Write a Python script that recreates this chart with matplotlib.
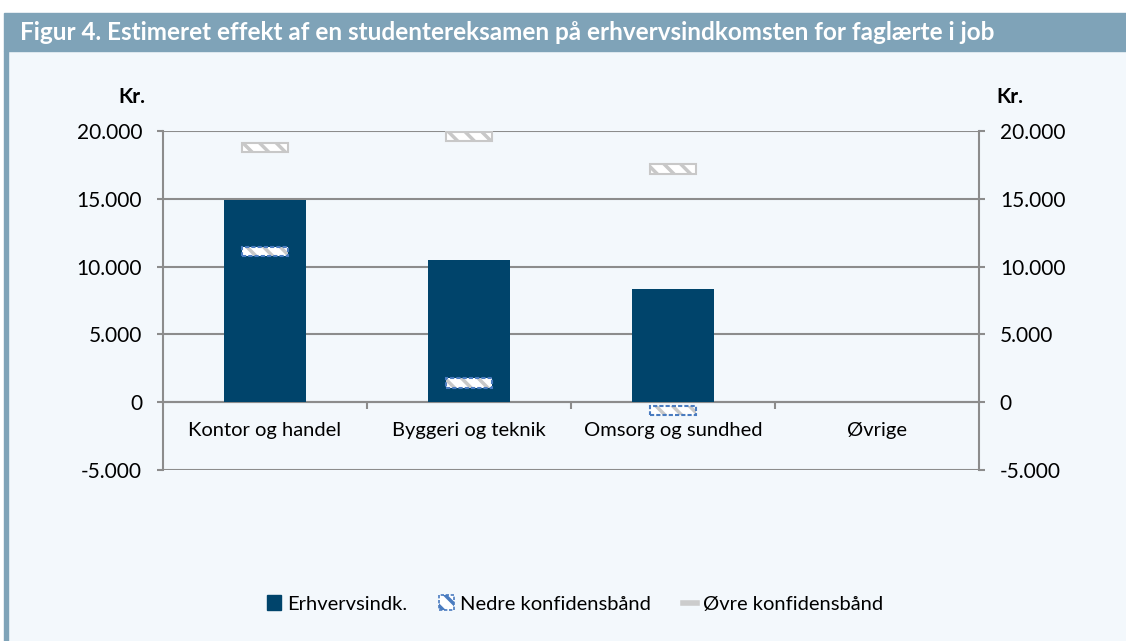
import numpy as np
import matplotlib.pyplot as plt
from matplotlib.patches import Patch, Rectangle
from matplotlib.lines import Line2D
from matplotlib.ticker import FuncFormatter, FixedLocator

plt.rcParams['font.family'] = ['Lato', 'DejaVu Sans']
plt.rcParams['hatch.linewidth'] = 2.5

# data (kr.)
categories = ['Kontor og handel', 'Byggeri og teknik', 'Omsorg og sundhed', 'Øvrige']
erhverv = [14900, 10450, 8350, np.nan]
nedre = [11100, 1400, -600, np.nan]
oevre = [18800, 19600, 17200, np.nan]
yticks = [-5000, 0, 5000, 10000, 15000, 20000]

navy = '#00446b'
grid_c = '#8c8c8c'
bg = '#f3f8fc'
band = '#7fa3b8'

W, H = 1126, 641
fig = plt.figure(figsize=(W / 100, H / 100), dpi=100)
fig.patch.set_facecolor('white')

# background, title bar and left border
fig.add_artist(Rectangle((8 / W, 0), 1, 1 - 51 / H, transform=fig.transFigure, color=bg, zorder=-3))
fig.add_artist(Rectangle((4 / W, 0), 4 / W, 1 - 51 / H, transform=fig.transFigure, color=band, zorder=-2))
fig.add_artist(Rectangle((4 / W, 1 - 51 / H), 1, 38 / H, transform=fig.transFigure, color=band, zorder=-2))
fig.text(20 / W, 1 - 32 / H, 'Figur 4. Estimeret effekt af en studentereksamen på erhvervsindkomsten for faglærte i job',
         color='white', fontsize=17.5, fontweight='bold', va='center', ha='left')

ax = fig.add_axes([163 / W, (H - 470) / H, 816 / W, (470 - 131) / H])
ax.set_facecolor('none')
x = np.arange(len(categories))

ax.bar(x, erhverv, width=0.4, color=navy, zorder=3)

# confidence band markers as small hatched boxes
bh = 700
bw = 0.23
nedre_arr = np.array(nedre)
oevre_arr = np.array(oevre)
ax.bar(x, bh, bottom=oevre_arr - bh / 2, width=bw, facecolor='white', edgecolor='#c8c8c8',
       hatch='\\\\', linewidth=1.5, zorder=4)
ax.bar(x, bh, bottom=nedre_arr - bh / 2, width=bw, facecolor='white', edgecolor='#c8c8c8',
       hatch='\\\\', linewidth=0, zorder=4)
ax.bar(x, bh, bottom=nedre_arr - bh / 2, width=bw, facecolor='none', edgecolor='#4a7cc0',
       linestyle=(0, (2, 1)), linewidth=1.5, zorder=5)

ax.set_xlim(-0.5, 3.5)
ax.set_ylim(-5000, 20000)
ax.set_yticks(yticks)
ax.yaxis.set_major_formatter(FuncFormatter(lambda v, p: f'{int(v):,}'.replace(',', '.')))
ax.yaxis.grid(True, color=grid_c, linewidth=1.5, zorder=1)
ax.set_axisbelow(True)
ax.tick_params(axis='y', left=True, right=True, labelleft=True, labelright=True,
               direction='out', length=4, width=1.5, color=grid_c, pad=11, labelsize=15)

ax.spines['top'].set_visible(False)
for s in ['left', 'right', 'bottom']:
    ax.spines[s].set_color(grid_c)
    ax.spines[s].set_linewidth(1.5)
ax.spines['bottom'].set_position(('data', 0))
ax.spines['bottom'].set_zorder(2)

ax.set_xticks(x)
ax.set_xticklabels(categories)
ax.xaxis.set_minor_locator(FixedLocator([0.5, 1.5, 2.5]))
ax.tick_params(axis='x', which='major', length=0, pad=14, labelsize=14.5)
ax.tick_params(axis='x', which='minor', length=5, width=1.5, color=grid_c, direction='out')

fig.text(145 / W, 1 - 97 / H, 'Kr.', fontsize=15, fontweight='bold', ha='right', va='center')
fig.text(996 / W, 1 - 97 / H, 'Kr.', fontsize=15, fontweight='bold', ha='left', va='center')

handles = [
    Patch(facecolor=navy, edgecolor=navy),
    Patch(facecolor='white', edgecolor='#4a7cc0', hatch='\\\\', linestyle=(0, (2, 1)), linewidth=1.2),
    Line2D([0], [0], color='#cccccc', linewidth=4),
]
labels = ['Erhvervsindk.', 'Nedre konfidensbånd', 'Øvre konfidensbånd']
fig.legend(handles, labels, loc='center', bbox_to_anchor=(575 / W, 1 - 604 / H), ncol=3, frameon=False,
           fontsize=14.5, handlelength=0.7, handleheight=0.7, handletextpad=0.3, columnspacing=1.6)

fig.savefig('out.png', dpi=100)
